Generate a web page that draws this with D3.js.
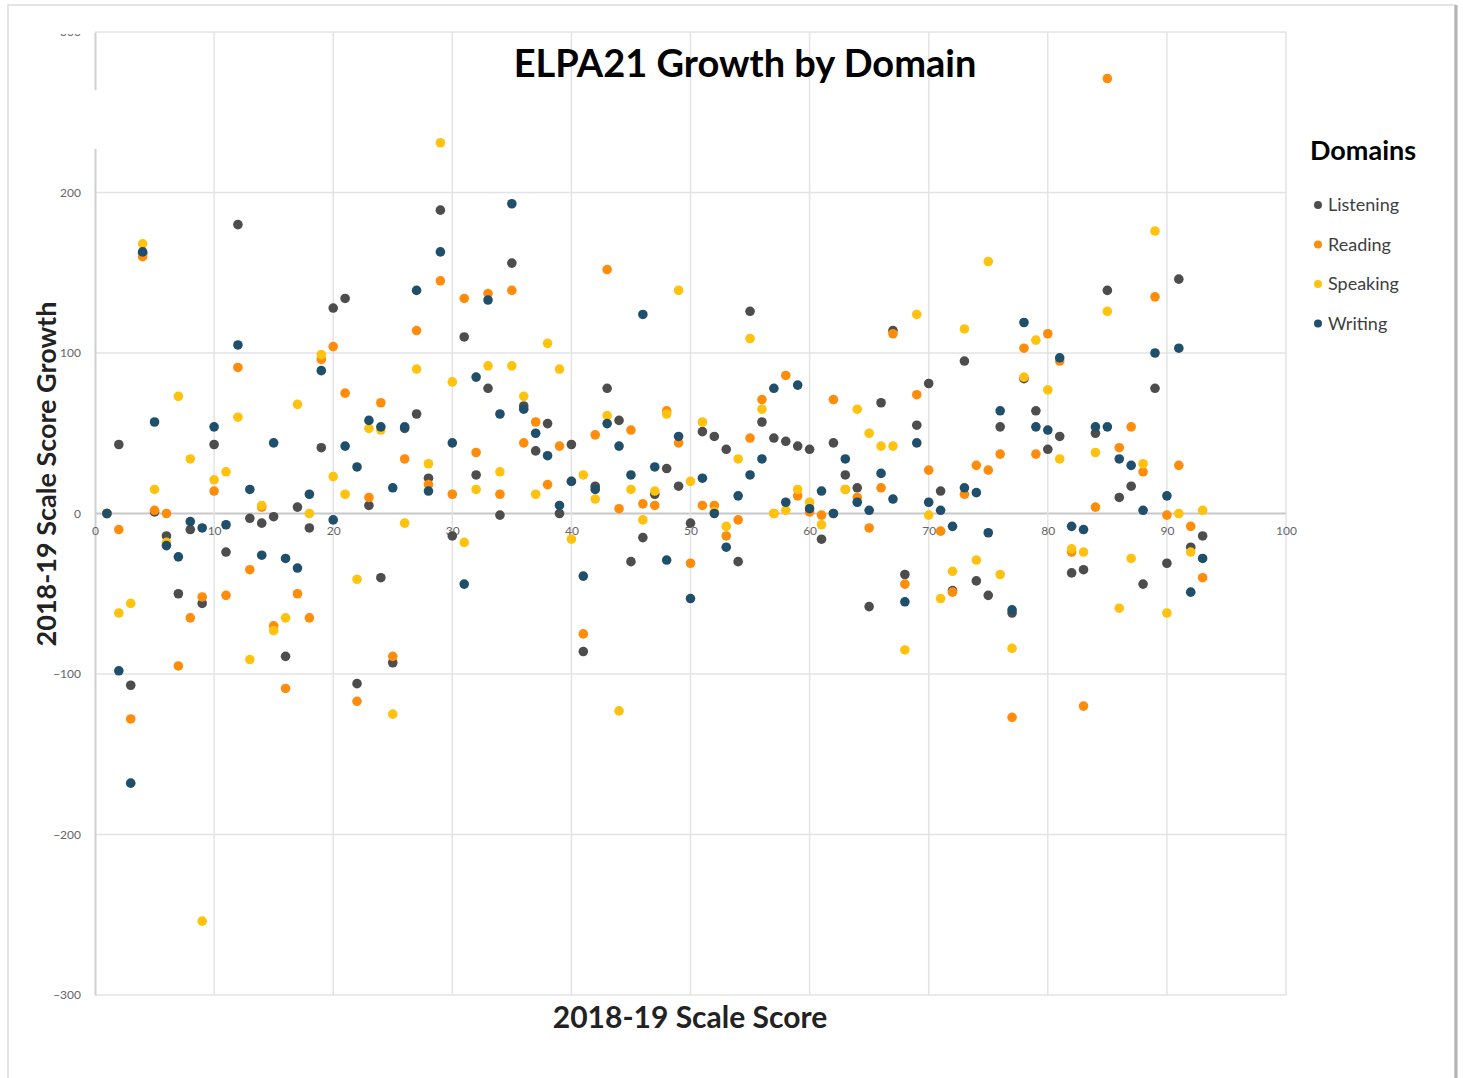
<!DOCTYPE html>
<html>
<head>
<meta charset="utf-8">
<script src="https://cdn.jsdelivr.net/npm/d3@7"></script>
<style>
  body { margin: 0; background: #fff; }
  svg { display: block; }
</style>
</head>
<body>
<div id="chart"></div>
<script>
// scale score (x) and growth per domain
const scores = d3.range(1, 94);
const listening = [0,43,-107,162,1,-14,-50,-10,-56,43,-24,180,-3,-6,-2,-89,4,-9,41,128,134,-106,5,-40,-93,53,62,22,189,-14,110,24,78,-1,156,67,39,56,0,43,-86,17,78,58,-30,-15,12,28,17,-6,51,48,40,-30,126,57,47,45,42,40,-16,44,24,16,-58,69,114,-38,55,81,14,-48,95,-42,-51,54,-62,84,64,40,48,-37,-35,50,139,10,17,-44,78,-31,146,-21,-14];
const reading = [0,-10,-128,160,2,0,-95,-65,-52,14,-51,91,-35,4,-70,-109,-50,-65,96,104,75,-117,10,69,-89,34,114,18,145,12,134,38,137,12,139,44,57,18,42,20,-75,49,152,3,52,6,5,64,44,-31,5,5,-14,-4,47,71,0,86,11,1,-1,71,15,10,-9,16,112,-44,74,27,-11,-49,12,30,27,37,-127,103,37,112,95,-24,-120,4,271,41,54,26,135,-1,30,-8,-40];
const speaking = [0,-62,-56,168,15,-18,73,34,-254,21,26,60,-91,5,-73,-65,68,0,99,23,12,-41,53,52,-125,-6,90,31,231,82,-18,15,92,26,92,73,12,106,90,-16,24,9,61,-123,15,-4,14,62,139,20,57,1,-8,34,109,65,0,2,15,7,-7,0,15,65,50,42,42,-85,124,-1,-53,-36,115,-29,157,-38,-84,85,108,77,34,-22,-24,38,126,-59,-28,31,176,-62,0,-24,2];
const writing = [0,-98,-168,163,57,-20,-27,-5,-9,54,-7,105,15,-26,44,-28,-34,12,89,-4,42,29,58,54,16,54,139,14,163,44,-44,85,133,62,193,65,50,36,5,20,-39,15,56,42,24,124,29,-29,48,-53,22,0,-21,11,24,34,78,7,80,3,14,0,34,7,2,25,9,-55,44,7,2,-8,16,13,-12,64,-60,119,54,52,97,-8,-10,54,54,34,30,2,100,11,103,-49,-28];

const domains = ['Listening', 'Reading', 'Speaking', 'Writing'];
const domainValues = [listening, reading, speaking, writing];
const domainColors = ['#4d4d4d', '#ff8c0a', '#ffc20e', '#1f4f6b'];

const xTicks = d3.range(0, 101, 10);
const yTicks = d3.range(-300, 301, 100);

const W = 1463, H = 1078;
const tickFont = 'Lato, "DejaVu Sans", sans-serif';
const headFont = 'Lato, "Open Sans", sans-serif';

let svg = d3.select('#chart').append('svg')
    .attr('width', W)
    .attr('height', H);

svg.append('rect').attr('width', W).attr('height', H).attr('fill', '#fff');

// picture frame with a soft shadow on the right
svg.append('rect')
    .attr('x', 8).attr('y', 5)
    .attr('width', 1447).attr('height', 1090)
    .attr('fill', '#fff')
    .attr('stroke', '#dcdcdc')
    .attr('stroke-width', 1.5);
svg.append('line')
    .attr('x1', 1456).attr('x2', 1456).attr('y1', 5).attr('y2', H)
    .attr('stroke', '#b4b4b4').attr('stroke-width', 3);

let x = d3.scaleLinear().domain([0, 100]).range([95, 1286]);
let y = d3.scaleLinear().domain([-300, 300]).range([995, 32]);

// gridlines
svg.append('g')
    .selectAll('line')
    .data(yTicks)
    .enter()
    .append('line')
        .attr('x1', x(0)).attr('x2', x(100))
        .attr('y1', d => y(d)).attr('y2', d => y(d))
        .attr('stroke', d => d === 0 ? '#c8c8c8' : '#e3e3e3')
        .attr('stroke-width', d => d === 0 ? 2 : 1.5);

svg.append('g')
    .selectAll('line')
    .data(xTicks.slice(1))
    .enter()
    .append('line')
        .attr('x1', d => x(d)).attr('x2', d => x(d))
        .attr('y1', y(300)).attr('y2', y(-300))
        .attr('stroke', '#e3e3e3')
        .attr('stroke-width', 1.5);

// y axis
let yAxis = svg.append('g')
    .attr('transform', 'translate(' + x(0) + ',0)')
    .call(d3.axisLeft(y).tickValues(yTicks).tickSize(0).tickPadding(14));
yAxis.select('.domain').attr('stroke', '#d0d0d0').attr('stroke-width', 2);
yAxis.selectAll('text')
    .style('font-family', tickFont)
    .style('font-size', '12px')
    .attr('fill', '#666');

// x axis labels sit on the zero line
let xAxis = svg.append('g')
    .attr('transform', 'translate(0,' + y(0) + ')')
    .call(d3.axisBottom(x).tickValues(xTicks).tickSize(0).tickPadding(13));
xAxis.select('.domain').remove();
xAxis.selectAll('text')
    .style('font-family', tickFont)
    .style('font-size', '12px')
    .attr('fill', '#666');

// dots, one layer per domain
domainValues.forEach((vals, i) => {
    svg.append('g')
        .selectAll('circle')
        .data(scores.map((s, j) => ({ s: s, v: vals[j] })))
        .enter()
        .append('circle')
            .attr('cx', d => x(d.s))
            .attr('cy', d => y(d.v))
            .attr('r', 4.8)
            .attr('fill', domainColors[i]);
});

// white patches seen in the picture (top cut and axis gap)
svg.append('rect').attr('x', 40).attr('y', 6).attr('width', 50).attr('height', 28).attr('fill', '#fff');
svg.append('rect').attr('x', 88).attr('y', 90).attr('width', 14).attr('height', 59).attr('fill', '#fff');

// title
svg.append('text')
    .attr('x', 745).attr('y', 77)
    .attr('text-anchor', 'middle')
    .style('font-family', headFont)
    .style('font-weight', 700)
    .style('font-size', '38px')
    .attr('fill', '#000')
    .text('ELPA21 Growth by Domain');

// axis titles
svg.append('text')
    .attr('transform', 'translate(56,474)rotate(-90)')
    .attr('text-anchor', 'middle')
    .style('font-family', headFont)
    .style('font-weight', 700)
    .style('font-size', '27px')
    .attr('fill', '#222')
    .text('2018-19 Scale Score Growth');

svg.append('text')
    .attr('x', 690).attr('y', 1028)
    .attr('text-anchor', 'middle')
    .style('font-family', headFont)
    .style('font-weight', 700)
    .style('font-size', '30px')
    .attr('fill', '#222')
    .text('2018-19 Scale Score');

// legend
svg.append('text')
    .attr('x', 1310).attr('y', 160)
    .style('font-family', headFont)
    .style('font-weight', 700)
    .style('font-size', '27px')
    .attr('fill', '#000')
    .text('Domains');

let legend = svg.append('g')
    .selectAll('g')
    .data(domains)
    .enter()
    .append('g')
        .attr('transform', (d, i) => 'translate(1318,' + (205 + i * 39.5) + ')');
legend.append('circle')
    .attr('r', 4)
    .attr('fill', (d, i) => domainColors[i]);
legend.append('text')
    .attr('x', 10)
    .attr('dy', '0.35em')
    .style('font-family', tickFont)
    .style('font-size', '18px')
    .attr('fill', '#404040')
    .text(d => d);
</script>
</body>
</html>
